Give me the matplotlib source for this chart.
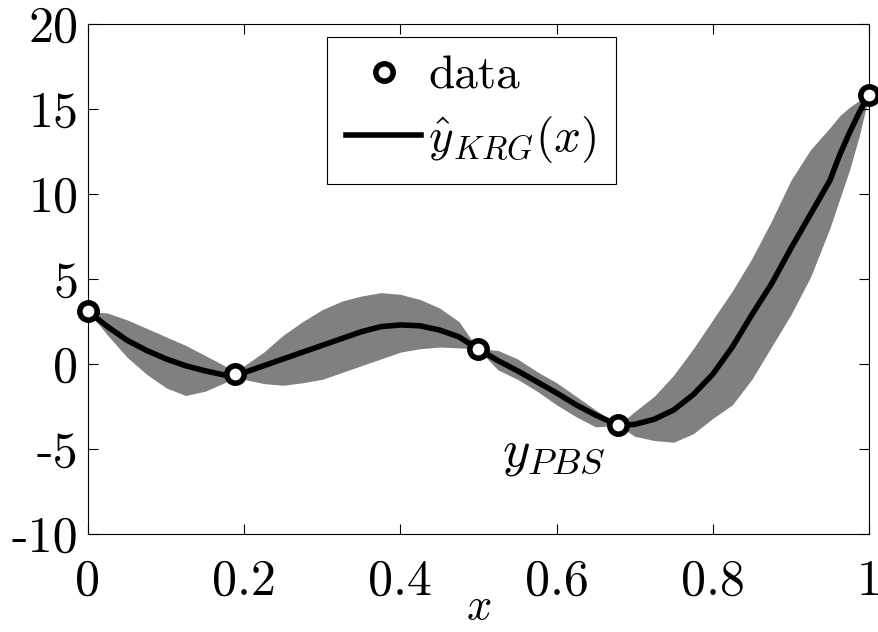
import matplotlib
matplotlib.use("Agg")
import matplotlib.pyplot as plt

plt.rcParams["font.family"] = "cmr10"
plt.rcParams["mathtext.fontset"] = "cm"
plt.rcParams["axes.unicode_minus"] = False
plt.rcParams["axes.formatter.use_mathtext"] = True

# sampled kriging sites
data_x = [0.0, 0.188, 0.499, 0.679, 1.0]
data_y = [3.1, -0.6, 0.9, -3.6, 15.85]

# prediction and band
grid_x = [0.0, 0.025, 0.05, 0.075, 0.1, 0.125, 0.15, 0.175, 0.188, 0.2,
          0.225, 0.25, 0.275, 0.3, 0.325, 0.35, 0.375, 0.4, 0.425, 0.45,
          0.475, 0.499, 0.525, 0.55, 0.575, 0.6, 0.625, 0.65, 0.679, 0.7,
          0.725, 0.75, 0.775, 0.8, 0.825, 0.85, 0.875, 0.9, 0.925, 0.95,
          0.9625, 0.975, 0.9875, 1.0]
y_krg = [3.1, 2.2, 1.4, 0.8, 0.3, -0.1, -0.4, -0.65, -0.6, -0.5,
         -0.1, 0.3, 0.7, 1.1, 1.5, 1.9, 2.2, 2.3, 2.25, 2.0,
         1.6, 0.9, 0.2, -0.4, -1.05, -1.7, -2.4, -3.0, -3.6, -3.55,
         -3.25, -2.7, -1.8, -0.6, 1.0, 2.9, 4.7, 6.8, 8.8, 10.8,
         12.3, 13.6, 14.8, 15.85]
y_upper = [3.1, 3.0, 2.6, 2.1, 1.6, 1.1, 0.5, -0.1, -0.6, -0.1,
           0.7, 1.7, 2.5, 3.2, 3.7, 4.0, 4.2, 4.1, 3.8, 3.3,
           2.5, 0.9, 0.8, 0.3, -0.45, -1.1, -1.9, -2.7, -3.6, -2.8,
           -1.9, -0.65, 0.9, 2.6, 4.3, 6.2, 8.4, 10.8, 12.6, 13.9,
           14.6, 15.1, 15.5, 15.85]
y_lower = [3.1, 1.7, 0.4, -0.6, -1.4, -1.85, -1.6, -1.1, -0.6, -0.9,
           -1.15, -1.25, -1.1, -0.9, -0.5, -0.1, 0.3, 0.7, 0.9, 1.0,
           0.95, 0.9, -0.35, -0.9, -1.6, -2.4, -3.1, -3.7, -3.6, -4.25,
           -4.5, -4.6, -4.1, -3.2, -2.4, -0.9, 1.0, 2.9, 5.1, 8.0,
           9.7, 11.4, 13.4, 15.85]

fig = plt.figure(figsize=(8.79, 6.32), dpi=100)
ax = fig.add_axes([0.1001, 0.155, 0.8885, 0.807])

ax.fill_between(grid_x, y_lower, y_upper, color="#808080", linewidth=0)
ax.plot(grid_x, y_krg, color="black", lw=4, solid_joinstyle="round",
        label=r"$\hat{y}_{KRG}(x)$")
ax.plot(data_x, data_y, "o", ms=12.5, mew=4, mec="black", mfc="white",
        label="data", zorder=5, clip_on=False)

ax.text(0.597, -5.35, r"$y_{PBS}$", fontsize=38, ha="center", va="center")

ax.set_xlim(0, 1)
ax.set_ylim(-10, 20)
ax.set_xticks([0, 0.2, 0.4, 0.6, 0.8, 1])
ax.set_xticklabels(["0", "0.2", "0.4", "0.6", "0.8", "1"])
ax.set_yticks([-10, -5, 0, 5, 10, 15, 20])
ax.set_yticklabels(["-10", "-5", "0", "5", "10", "15", "20"])
ax.tick_params(direction="in", length=7, width=0.8, top=True, right=True,
               labelsize=36)
ax.tick_params(axis="x", pad=18)
ax.tick_params(axis="y", pad=7)
for s in ax.spines.values():
    s.set_linewidth(0.8)
ax.set_xlabel(r"$x$", fontsize=32, labelpad=-12)

h, l = ax.get_legend_handles_labels()
leg = ax.legend(h[::-1], l[::-1], loc="upper left",
                bbox_to_anchor=(0.306, 0.975), fontsize=34, frameon=True,
                fancybox=False, edgecolor="black", framealpha=1,
                handlelength=1.6, handletextpad=0.15, borderpad=0.4,
                labelspacing=0.35, borderaxespad=0)
leg.get_frame().set_linewidth(0.8)

fig.savefig("out.png", dpi=100)
